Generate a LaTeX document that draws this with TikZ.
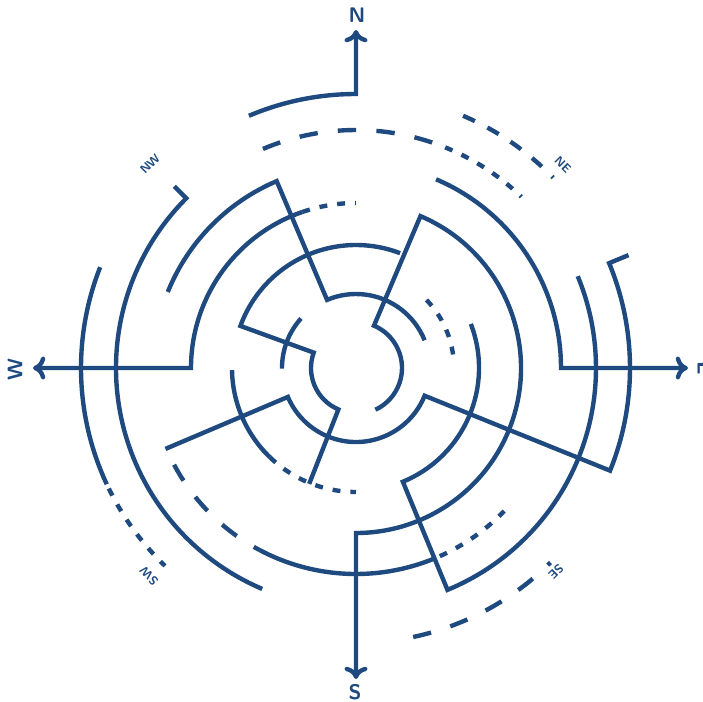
\documentclass[tikz,border=0pt]{standalone}
\usepackage{tikz}
\usetikzlibrary{arrows.meta}
\definecolor{mazeblue}{RGB}{31,74,128}

\begin{document}
\begin{tikzpicture}[
        x=0.02cm, y=0.02cm,
        wall/.style={draw=mazeblue, line width=2.5pt},
        dotwall/.style={wall, dash pattern=on 4.5pt off 5.7pt},
        midwall/.style={wall, dash pattern=on 7.4pt off 8pt},
        dashwall/.style={wall, dash pattern=on 10.5pt off 11.5pt},
        pointer/.style={wall, -{Computer Modern Rightarrow[length=7pt, width=13pt]}},
        cardinal/.style={text=mazeblue, font=\sffamily\bfseries\large},
        between/.style={text=mazeblue, font=\sffamily\bfseries\scriptsize, inner sep=1pt}
    ]
    \useasboundingbox (-356,-333) rectangle (347,368);

    % Compass points
    \draw[pointer] (113:274) arc[start angle=113, end angle=90, radius=274] -- (90:338);
    \draw[pointer] (67:205) arc[start angle=67, end angle=0, radius=205] -- (0:332);
    \draw[pointer] (-65:46) arc[start angle=-65, end angle=67, radius=46] -- (67:165)
        arc[start angle=67, end angle=-90, radius=165] -- (-90:311);
    \draw[pointer] (109:165) arc[start angle=109, end angle=180, radius=165] -- (180:323);

    \node[cardinal] (north) at (1,353) {N};
    \node[cardinal] (south) at (-1,-324) {S};
    \node[cardinal, rotate=90] (west) at (-341,-2) {W};
    \node[cardinal, rotate=-90] (east) at (349,0) {E};
    \node[between, rotate=45] (northwest) at (-206,204) {NW};
    \node[between, rotate=-45] (northeast) at (207,203) {NE};
    \node[between, rotate=135] (southwest) at (-207,-208) {SW};
    \node[between, rotate=225] (southeast) at (200,-204) {SE};

    % Walls with corners
    \draw[wall] (158:203) arc[start angle=158, end angle=113, radius=203] -- (113:74)
        arc[start angle=113, end angle=22, radius=74];
    \draw[wall] (22.5:295) -- (22.5:274) arc[start angle=22.5, end angle=-22, radius=274]
        -- (-22:74) arc[start angle=-22, end angle=-157, radius=74] -- (-157:207);
    \draw[wall] (69:123) arc[start angle=69, end angle=160, radius=123] -- (160:45)
        arc[start angle=160, end angle=247, radius=45] -- (248:125);
    \draw[wall] (21:123) arc[start angle=21, end angle=-67.6, radius=123] -- (-67.6:240)
        arc[start angle=-67.6, end angle=22.5, radius=240];
    \draw[wall] (135:257) -- (135:240) arc[start angle=135, end angle=247, radius=240];

    % Open walls
    \draw[wall] (138:74) arc[start angle=138, end angle=180.5, radius=74];
    \draw[wall] (181:124) arc[start angle=181, end angle=226, radius=124];
    \draw[wall] (242:206) arc[start angle=242, end angle=292.4, radius=206];
    \draw[wall] (158.5:275) arc[start angle=158.5, end angle=205, radius=275];

    % Broken walls
    \draw[dotwall] (109:165) arc[start angle=109, end angle=90, radius=165];
    \draw[dotwall] (44:98) arc[start angle=44, end angle=4, radius=98];
    \draw[dotwall] (226:124) arc[start angle=226, end angle=270, radius=124];
    \draw[dotwall] (294:206) arc[start angle=294, end angle=316, radius=206];
    \draw[dotwall] (206:275) arc[start angle=206, end angle=226, radius=275];
    \draw[dashwall] (208:206) arc[start angle=208, end angle=242, radius=206];
    \draw[dashwall] (113:238) arc[start angle=113, end angle=70, radius=238];
    \draw[dotwall] (68:238) arc[start angle=68, end angle=46, radius=238];
    \draw[midwall] (67:274) arc[start angle=67, end angle=44, radius=274];
    \draw[dashwall] (-78:275) arc[start angle=-78, end angle=-45, radius=275];
\end{tikzpicture}
\end{document}
